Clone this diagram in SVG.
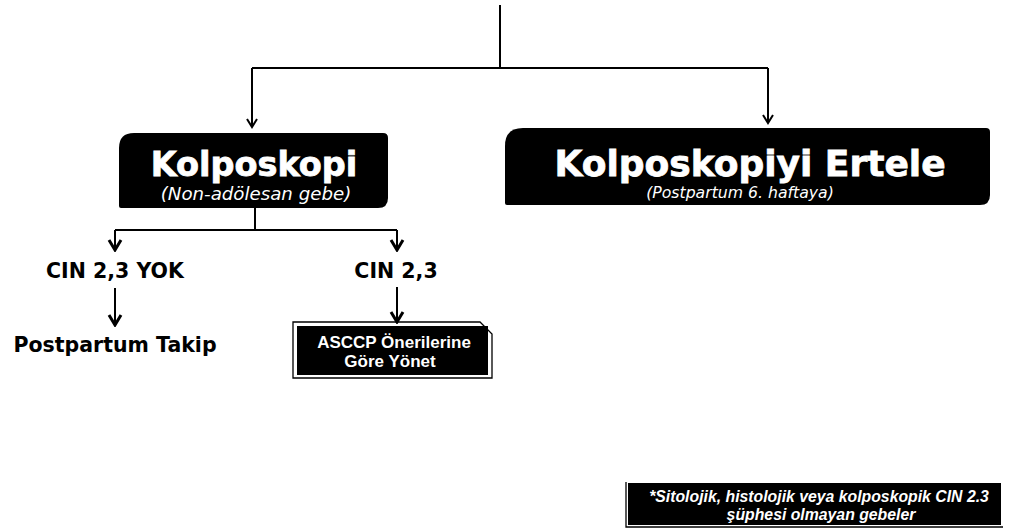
<svg xmlns="http://www.w3.org/2000/svg" width="1009" height="530" viewBox="0 0 1009 530">
<style>
.line{fill:none;stroke:#000;stroke-width:2}
.box{fill:#000}
.frame{fill:none;stroke:#000;stroke-width:1.3}
.title{font-family:"DejaVu Sans",Verdana,sans-serif;font-weight:bold;fill:#fff;stroke:#fff;stroke-width:0.8;text-anchor:middle}
.sub{font-family:"DejaVu Sans",Verdana,sans-serif;font-style:italic;fill:#fff;text-anchor:middle}
.lbl{font-family:"DejaVu Sans",Verdana,sans-serif;font-weight:bold;fill:#000;text-anchor:middle}
.small{font-family:"Liberation Sans",Arial,sans-serif;font-weight:bold;fill:#fff;text-anchor:middle}
</style>
<defs>
<marker id="open" markerUnits="userSpaceOnUse" viewBox="-10 -7 12 14" refX="0" refY="0" markerWidth="12" markerHeight="14" orient="auto">
<path d="M-8,-5 L0,0 L-8,5" fill="none" stroke="#000" stroke-width="2"/>
</marker>
<marker id="bold" markerUnits="userSpaceOnUse" viewBox="-12 -8 14 16" refX="0" refY="0" markerWidth="14" markerHeight="16" orient="auto">
<path d="M-10,-6 L0,0 L-10,6" fill="none" stroke="#000" stroke-width="3"/>
</marker>
</defs>
<g id="connectors">
<path class="line" d="M500,5 V68"/>
<path class="line" d="M252,68 H768"/>
<path class="line" d="M252,68 V127" marker-end="url(#open)"/>
<path class="line" d="M768,68 V123" marker-end="url(#open)"/>
<path class="line" d="M255,208 V230"/>
<path class="line" d="M115,230 H397"/>
<path class="line" d="M115,230 V250" marker-end="url(#bold)"/>
<path class="line" d="M397,230 V250" marker-end="url(#bold)"/>
<path class="line" d="M115,288 V325" marker-end="url(#bold)"/>
<path class="line" d="M397,287 V322" marker-end="url(#bold)"/>
</g>
<g id="kolposkopi">
<path class="box" d="M119,148 Q119,133 134,133 L383,133 Q388,133 388,138 L388,198 Q388,208 378,208 L121,208 Q119,208 119,206 Z"/>
<text class="title" x="254" y="176" font-size="33.5">Kolposkopi</text>
<text class="sub" x="256" y="200" font-size="18.2">(Non-adölesan gebe)</text>
</g>
<g id="ertele">
<path class="box" d="M505,146 Q505,128 523,128 L986,128 Q990,128 990,132 L990,195 Q990,205 980,205 L507,205 Q505,205 505,203 Z"/>
<text class="title" x="750" y="176" font-size="36">Kolposkopiyi Ertele</text>
<text class="sub" x="740" y="198" font-size="15.7">(Postpartum 6. haftaya)</text>
</g>
<g id="cin-yok">
<text class="lbl" x="115" y="278" font-size="20.5">CIN 2,3 YOK</text>
</g>
<g id="cin">
<text class="lbl" x="396" y="278" font-size="20.5">CIN 2,3</text>
</g>
<g id="takip">
<text class="lbl" x="115" y="352" font-size="20.5">Postpartum Takip</text>
</g>
<g id="asccp">
<path class="frame" d="M293,322 L480,322 L492,334 L492,378 L293,378 Z"/>
<rect class="box" x="297" y="326" width="191" height="49"/>
<text class="small" x="394" y="348" font-size="17">ASCCP Önerilerine</text>
<text class="small" x="390" y="367" font-size="17">Göre Yönet</text>
</g>
<g id="footnote">
<path class="frame" d="M626,482 V527 H1003"/>
<rect class="box" x="628" y="483" width="373" height="42"/>
<text class="small" x="819" y="502" font-size="15.8" font-style="italic">*Sitolojik, histolojik veya kolposkopik CIN 2.3</text>
<text class="small" x="821" y="520" font-size="15.8" font-style="italic">şüphesi olmayan gebeler</text>
</g>
</svg>
